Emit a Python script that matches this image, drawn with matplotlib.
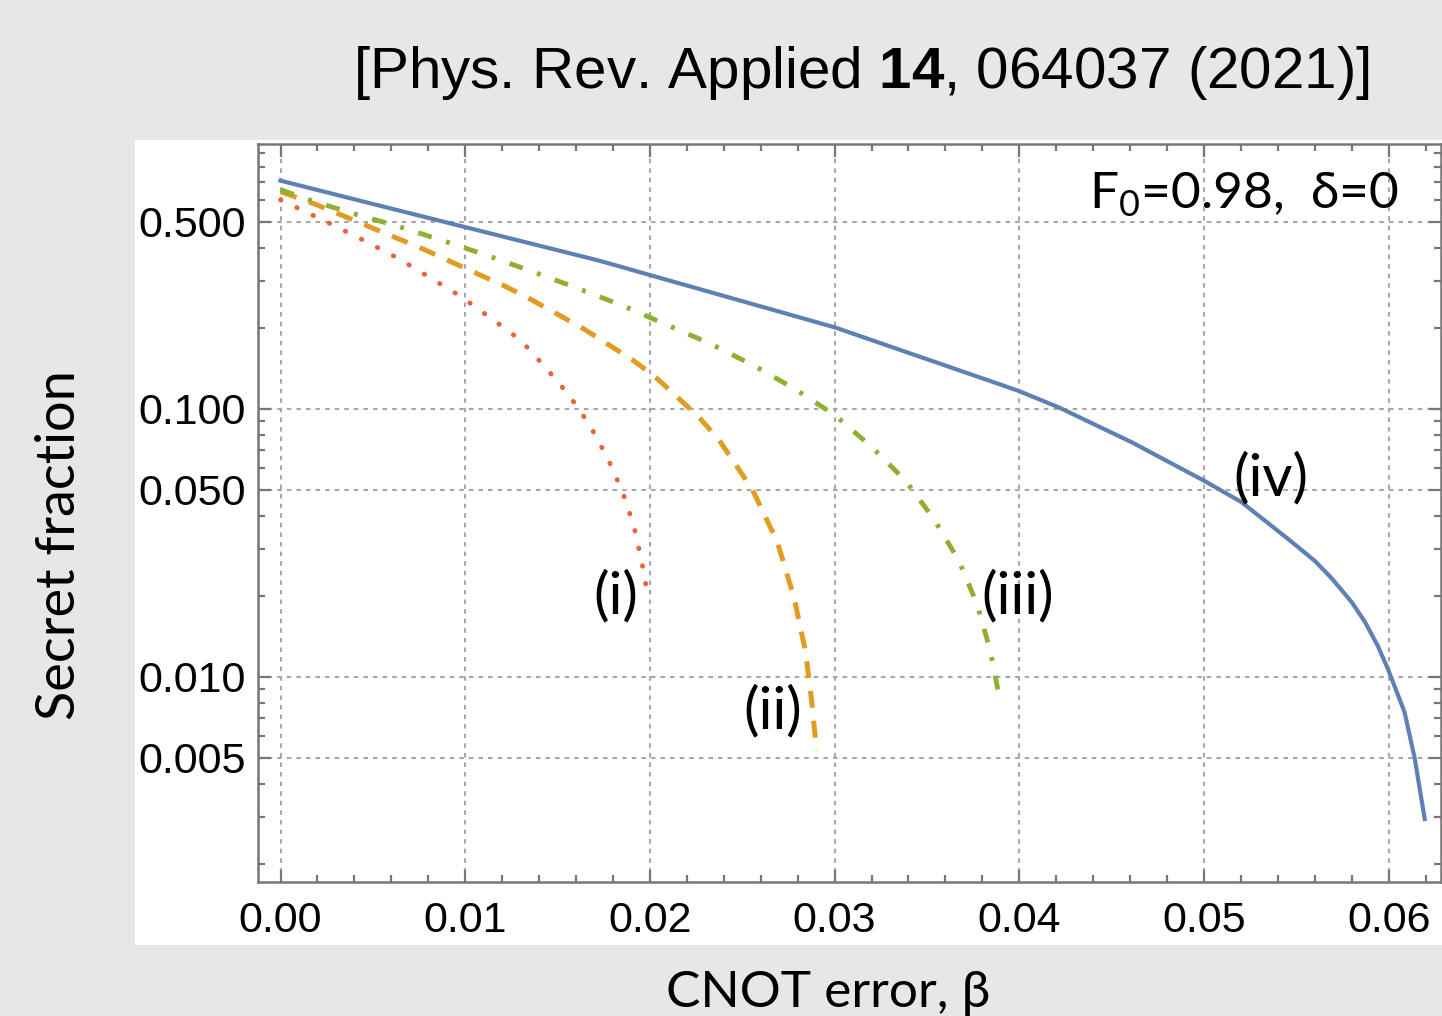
import numpy as np
import matplotlib
matplotlib.use("Agg")
import matplotlib.pyplot as plt
from matplotlib.patches import Rectangle
from matplotlib.ticker import FixedLocator, NullFormatter

plt.rcParams['mathtext.fontset'] = 'custom'
plt.rcParams['mathtext.rm'] = 'Lato'
plt.rcParams['mathtext.bf'] = 'Liberation Sans:bold'

# curve (i) - red dotted
beta_i = [0.0, 0.00104, 0.00284, 0.00465, 0.00636, 0.00807, 0.00978, 0.0114,
          0.01303, 0.01434, 0.01564, 0.01676, 0.01771, 0.01852, 0.01915,
          0.01957, 0.01992]
sf_i = [0.603, 0.5575, 0.486, 0.4206, 0.365, 0.310, 0.2624, 0.218,
        0.1798, 0.1431, 0.1121, 0.0867, 0.0655, 0.0491, 0.0362,
        0.0266, 0.0195]

# curve (ii) - orange dashed
beta_ii = [0.0, 0.00185, 0.00474, 0.0078, 0.01068, 0.01212, 0.01357, 0.01636,
           0.01906, 0.02032, 0.02149, 0.02266, 0.02375, 0.02555, 0.0269,
           0.0278, 0.02843, 0.02879, 0.02902]
sf_ii = [0.647, 0.582, 0.481, 0.393, 0.319, 0.288, 0.256, 0.200,
         0.1525, 0.1312, 0.1106, 0.0931, 0.0765, 0.050, 0.0319,
         0.0198, 0.0124, 0.0078, 0.0053]

# curve (iii) - green dash-dot
beta_iii = [0.0, 0.0014, 0.00384, 0.00636, 0.00879, 0.01122, 0.01365, 0.01609,
            0.01861, 0.02095, 0.0233, 0.02564, 0.02789, 0.03005, 0.03203,
            0.03384, 0.03537, 0.03672, 0.03771, 0.03843, 0.03897]
sf_iii = [0.658, 0.6075, 0.5385, 0.4806, 0.4246, 0.3734, 0.3253, 0.282,
          0.2416, 0.2056, 0.1748, 0.145, 0.1183, 0.0944, 0.0719,
          0.054, 0.0389, 0.0272, 0.0187, 0.01253, 0.00805]

# curve (iv) - blue solid
beta_iv = [0.0, 0.0050, 0.0100, 0.01726, 0.0200, 0.0300, 0.03888, 0.0400,
           0.04212, 0.04609, 0.0500, 0.05203, 0.05456, 0.0560, 0.0569,
           0.0580, 0.0587, 0.0594, 0.05996, 0.06086, 0.0614, 0.06195]
sf_iv = [0.711, 0.582, 0.477, 0.3575, 0.316, 0.2017, 0.124, 0.1165,
         0.1015, 0.0751, 0.054, 0.0449, 0.0327, 0.0271, 0.0234,
         0.0190, 0.0161, 0.0131, 0.0107, 0.00738, 0.0050, 0.00295]

xticks = [0.00, 0.01, 0.02, 0.03, 0.04, 0.05, 0.06]
xtick_labels = ["0.00", "0.01", "0.02", "0.03", "0.04", "0.05", "0.06"]
yticks = [0.005, 0.01, 0.05, 0.1, 0.5]
ytick_labels = ["0.005", "0.010", "0.050", "0.100", "0.500"]

cal = ['Lato', 'DejaVu Sans']
ari = ['Liberation Sans', 'DejaVu Sans']

fig = plt.figure(figsize=(14.42, 10.16), dpi=100, facecolor='#e7e7e7')
fig.patches.append(Rectangle((0.0936, 0.0699), 0.9064, 0.7923,
                             transform=fig.transFigure, facecolor='white',
                             edgecolor='none', zorder=-5))

ax = fig.add_axes([0.1789, 0.1319, 0.8204, 0.7264])
ax.set_facecolor('white')
ax.set_yscale('log')
ax.set_xlim(-0.00122, 0.06283)
ax.set_ylim(0.001718, 0.9745)

ax.plot(beta_i, sf_i, color='#EB6235', lw=3.5, linestyle=(0, (0.1, 3.6)),
        dash_capstyle='round')
ax.plot(beta_ii, sf_ii, color='#E19C24', lw=3.6, linestyle=(0, (3.4, 2.6)))
ax.plot(beta_iii, sf_iii, color='#8FB032', lw=3.5,
        linestyle=(0, (2.9, 3.1, 0.8, 3.1)))
ax.plot(beta_iv, sf_iv, color='#5E81B5', lw=3.0)

# ticks
ax.xaxis.set_major_locator(FixedLocator(xticks))
ax.xaxis.set_minor_locator(FixedLocator(np.arange(0.0, 0.0629, 0.002)))
ax.set_xticklabels(xtick_labels)
ax.yaxis.set_major_locator(FixedLocator(yticks))
minor_y = [m * 10.0 ** e for e in (-3, -2, -1) for m in range(1, 10)]
minor_y = [v for v in minor_y if v not in yticks]
ax.yaxis.set_minor_locator(FixedLocator(minor_y))
ax.yaxis.set_minor_formatter(NullFormatter())
ax.set_yticklabels(ytick_labels)

ax.tick_params(which='both', direction='in', top=True, right=True,
               color='#777777', width=1.6)
ax.tick_params(which='major', length=9)
ax.tick_params(which='minor', length=5)
ax.tick_params(axis='x', which='major', pad=14)
ax.tick_params(axis='y', which='major', pad=9)
for lab in ax.get_xticklabels() + ax.get_yticklabels():
    lab.set_family(ari)
    lab.set_fontsize(31)
for sp in ax.spines.values():
    sp.set_color('#777777')
    sp.set_linewidth(1.8)

ax.grid(True, which='major', color='#a8a8a8', lw=1.5, linestyle=(0, (2.2, 2.4)))

# curve labels
ax.text(0.01817, 0.020, "(i)", family=cal, fontsize=42, ha='center', va='center')
ax.text(0.02663, 0.0074, "(ii)", family=cal, fontsize=42, ha='center', va='center')
ax.text(0.0399, 0.020, "(iii)", family=cal, fontsize=42, ha='center', va='center')
ax.text(0.0536, 0.0548, "(iv)", family=cal, fontsize=42, ha='center', va='center')
ax.text(0.0605, 0.63, r"F$_\mathregular{0}$=0.98,  δ=0", family=cal,
        fontsize=37, ha='right', va='center')

fig.text(861 / 1442, 1 - 73 / 1016, r"[Phys. Rev. Applied $\mathbf{14}$, 064037 (2021)]",
         family='Liberation Sans', fontsize=42, ha='center', va='center')
fig.text(60 / 1442, 1 - 545 / 1016, "Secret fraction", family=cal, fontsize=39,
         rotation=90, ha='center', va='center')
fig.text(828 / 1442, 1 - 993 / 1016, "CNOT error, β", family=cal, fontsize=37,
         ha='center', va='center')

fig.savefig("out.png", dpi=100, facecolor=fig.get_facecolor())
